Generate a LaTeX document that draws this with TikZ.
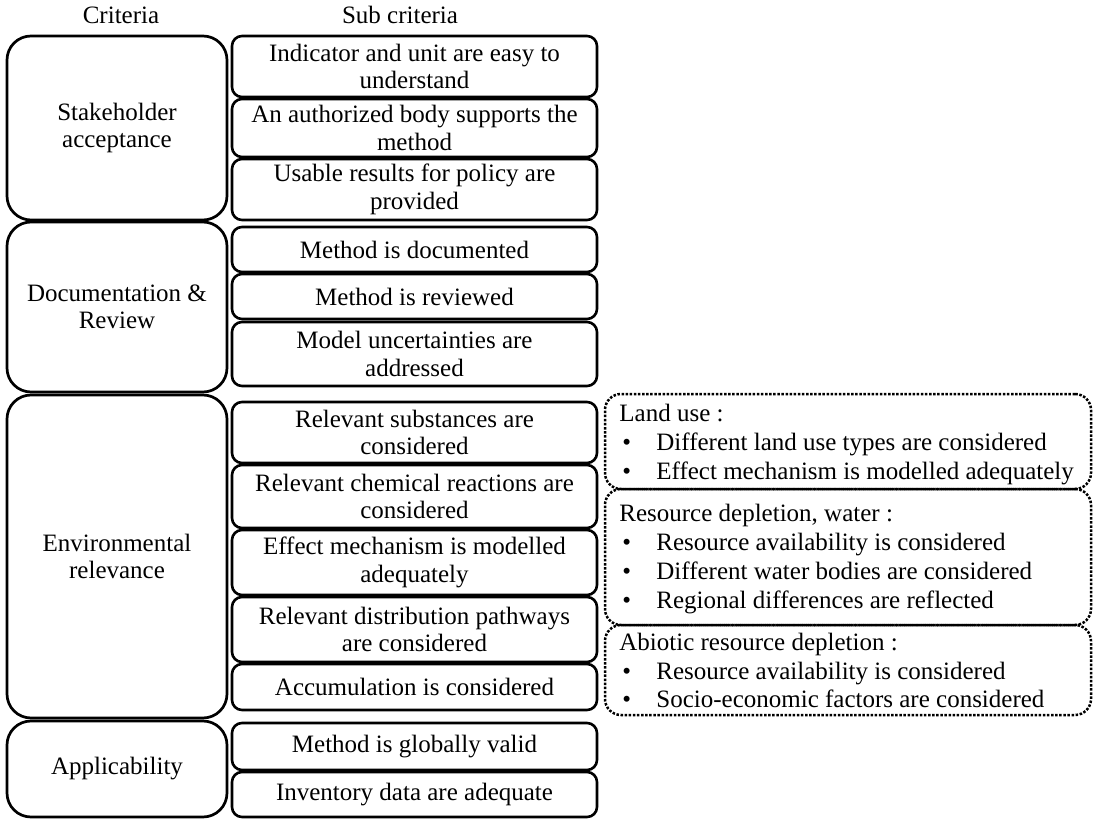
\documentclass[tikz,border=0pt]{standalone}
\usepackage{fontspec}
\setmainfont{Liberation Serif}
\begin{document}
\begin{tikzpicture}[x=0.5pt,y=-0.5pt,
  every node/.style={font=\fontsize{12.5}{13.75}\selectfont},
  critbox/.style={draw, line width=1.35pt, rounded corners=12pt, align=center, inner sep=0pt},
  subbox/.style={draw, line width=1.3pt, rounded corners=5pt, align=center, inner sep=0pt},
  dotbox/.style={draw, line width=1.25pt, dash pattern=on 1.25pt off 0.8pt, rounded corners=8pt, inner sep=0pt},
  txt/.style={anchor=base west, inner sep=0pt},
  hdr/.style={inner sep=0pt}]
\useasboundingbox (0,0) rectangle (1094,819);
\newcommand\bul{\hspace*{1.5pt}\makebox[17pt][l]{\textbullet}}
\newcommand\bx[7]{%
  \pgfmathsetmacro\bxcx{(#3+#5)/2}%
  \pgfmathsetmacro\bxcy{(#4+#6)/2}%
  \pgfmathsetmacro\bxw{(#5-#3)/2}%
  \pgfmathsetmacro\bxh{(#6-#4)/2}%
  \node[#1, minimum width=\bxw pt, minimum height=\bxh pt] (#2) at (\bxcx,\bxcy) {#7};}

\node[hdr] (h1) at (121,15) {Criteria};
\node[hdr] (h2) at (400,15) {Sub criteria};

\bx{critbox}{c1}{7}{36}{227}{220}{Stakeholder\\acceptance}
\bx{critbox}{c2}{7}{222}{227}{392}{Documentation \&\\Review}
\bx{critbox}{c3}{7}{395}{227}{718}{Environmental\\relevance}
\bx{critbox}{c4}{7}{721}{227}{817}{Applicability}

\bx{subbox}{s1}{232}{36}{597}{97}{Indicator and unit are easy to\\understand}
\bx{subbox}{s2}{232}{99}{597}{157}{An authorized body supports the\\method}
\bx{subbox}{s3}{232}{159}{597}{220}{Usable results for policy are\\provided}
\bx{subbox}{s4}{232}{227}{597}{272}{Method is documented}
\bx{subbox}{s5}{232}{274}{597}{319}{Method is reviewed}
\bx{subbox}{s6}{232}{322}{597}{386}{Model uncertainties are\\addressed}
\bx{subbox}{s7}{232}{402}{597}{463}{Relevant substances are\\considered}
\bx{subbox}{s8}{232}{465}{597}{528}{Relevant chemical reactions are\\considered}
\bx{subbox}{s9}{232}{530}{597}{595}{Effect mechanism is modelled\\adequately}
\bx{subbox}{s10}{232}{597}{597}{662}{Relevant distribution pathways\\are considered}
\bx{subbox}{s11}{232}{664}{597}{710}{Accumulation is considered}
\bx{subbox}{s12}{232}{723}{597}{770}{Method is globally valid}
\bx{subbox}{s13}{232}{772}{597}{817}{Inventory data are adequate}

\bx{dotbox}{d1}{605}{394}{1091}{489}{}
\bx{dotbox}{d2}{605}{489}{1091}{625}{}
\bx{dotbox}{d3}{605}{625}{1091}{715}{}

\node[txt] (d1t) at (619,421) {Land use :};
\node[txt] (d1a) at (619,450) {\bul Different land use types are considered};
\node[txt] (d1b) at (619,479) {\bul Effect mechanism is modelled adequately};
\node[txt] (d2t) at (619,521) {Resource depletion, water :};
\node[txt] (d2a) at (619,550) {\bul Resource availability is considered};
\node[txt] (d2b) at (619,579) {\bul Different water bodies are considered};
\node[txt] (d2c) at (619,608) {\bul Regional differences are reflected};
\node[txt] (d3t) at (619,650) {Abiotic resource depletion :};
\node[txt] (d3a) at (619,679) {\bul Resource availability is considered};
\node[txt] (d3b) at (619,707) {\bul Socio-economic factors are considered};
\end{tikzpicture}
\end{document}
